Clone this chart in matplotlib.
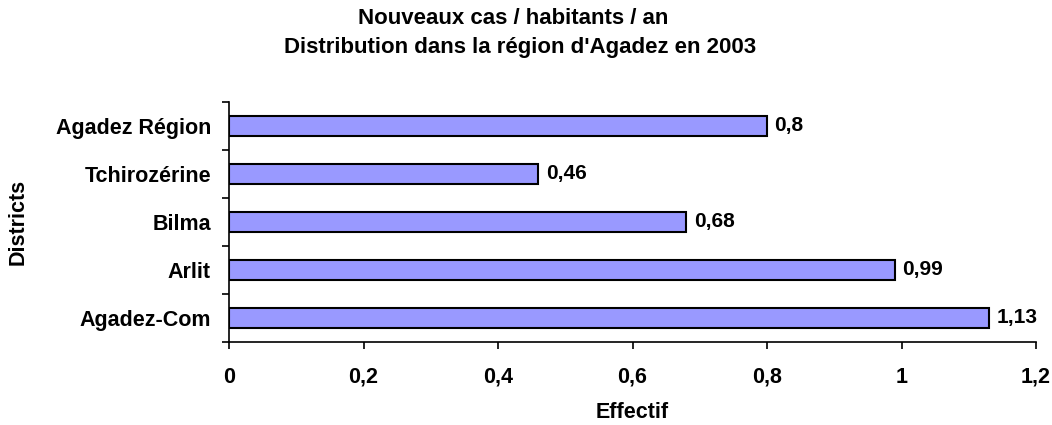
import matplotlib
matplotlib.use("Agg")
import matplotlib.pyplot as plt
from matplotlib.ticker import FixedLocator

# Data
districts = ["Agadez-Com", "Arlit", "Bilma", "Tchirozérine", "Agadez Région"]
values = [1.13, 0.99, 0.68, 0.46, 0.8]
xticks = [0, 0.2, 0.4, 0.6, 0.8, 1, 1.2]
xtick_labels = ["0", "0,2", "0,4", "0,6", "0,8", "1", "1,2"]

plt.rcParams["font.family"] = ["Liberation Sans", "DejaVu Sans"]
plt.rcParams["font.weight"] = "bold"
fs = 15.5

fig = plt.figure(figsize=(10.52, 4.25), dpi=100)
ax = fig.add_axes([229 / 1052, 1 - 342 / 425, (1036 - 229) / 1052, 240 / 425])

pos = range(len(districts))
ax.barh(pos, values, height=0.42, color="#9999FF", edgecolor="black", linewidth=1.5)

for y, v in zip(pos, values):
    ax.text(v + 0.011, y, str(v).replace(".", ","), va="center", ha="left",
            fontsize=15, fontweight="bold")

ax.set_xlim(0, 1.2)
ax.set_ylim(-0.5, len(districts) - 0.5)
ax.set_xticks(xticks)
ax.set_xticklabels(xtick_labels, fontsize=fs, fontweight="bold")
ax.set_yticks(list(pos))
ax.set_yticklabels(districts, fontsize=fs, fontweight="bold")
ax.tick_params(axis="y", length=0, pad=13)
ax.yaxis.set_minor_locator(FixedLocator([i - 0.5 for i in range(len(districts) + 1)]))
ax.tick_params(axis="y", which="minor", length=5, width=1.2, direction="out")
ax.tick_params(axis="x", length=5, width=1.2, direction="out", pad=13)

for s in ["top", "right"]:
    ax.spines[s].set_visible(False)
for s in ["left", "bottom"]:
    ax.spines[s].set_linewidth(1.2)

fig.text(632 / 1052, 1 - 412 / 425, "Effectif", ha="center", va="center",
         fontsize=fs, fontweight="bold")
fig.text(18 / 1052, 1 - 222 / 425, "Districts", ha="center", va="center",
         rotation=90, fontsize=fs, fontweight="bold")

fig.text(513 / 1052, 1 - 18 / 425, "Nouveaux cas / habitants / an", ha="center", va="center",
         fontsize=16, fontweight="bold")
fig.text(520 / 1052, 1 - 48 / 425, "Distribution dans la région d'Agadez en 2003", ha="center",
         va="center", fontsize=16, fontweight="bold")

fig.savefig("out.png", dpi=100)
